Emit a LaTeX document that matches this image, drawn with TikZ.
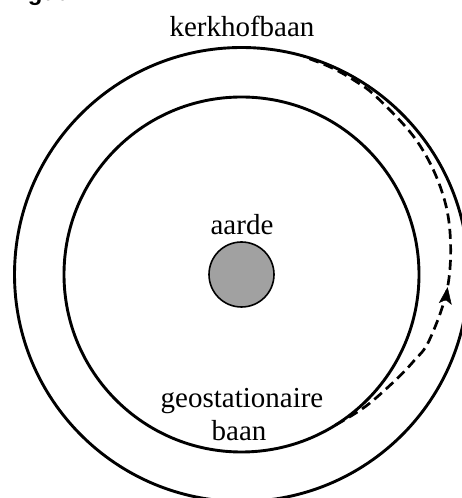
\documentclass[tikz,border=0pt]{standalone}
\usepackage{fontspec}
\setmainfont{Liberation Serif}
\newfontfamily\titlefont{Liberation Sans}
\usetikzlibrary{arrows.meta,calc}
\begin{document}
\begin{tikzpicture}[x=1pt,y=1pt,
  orbit/.style={line width=2.9pt},
  transfer/.style={line width=2.7pt, dash pattern=on 10pt off 5.5pt},
  lbl/.style={font=\fontsize{29}{34}\selectfont, inner sep=0pt},
]
\useasboundingbox (0,0) rectangle (462,498);
\clip (0,0) rectangle (462,498);
\coordinate (C) at (241.5,223.5);
% title fragment (cut off at the top)
\node[anchor=base west, inner sep=0pt, font=\titlefont\bfseries\fontsize{24}{28}\selectfont] (title) at (13,497.5) {figuur};
% orbits
\draw[orbit] (C) circle[radius=227];
\draw[orbit] (C) circle[radius=177.5];
% earth
\node[circle, draw, line width=1.6pt, fill=black!37, minimum size=65pt, inner sep=0pt] (earth) at (C) {};
% transfer orbit
\draw[transfer, shift={(C)}] plot[smooth, tension=0.6] coordinates {
  (-58:177.5) (-47:181) (-35.6:186) (-27:192.5) (-19.2:199) (-3.5:206.5)
  (12:213) (24.7:217.5) (38:220.5) (52.6:223) (60:224.5) (67:225.6) (74:226.5)};
\coordinate (T) at ($(C)+(-3.5:206.5)$);
\draw[line width=0.5pt, -{Stealth[length=17pt,width=13pt,inset=4pt]}] ($(T)+(262:2)$) -- (T);
% labels
\node[lbl, anchor=base] (kerkhof) at (242,461) {kerkhofbaan};
\node[lbl, anchor=base] (aarde) at (242,263) {aarde};
\node[lbl, anchor=base] (geo1) at (242,90) {geostationaire};
\node[lbl, anchor=base] (geo2) at (239,57) {baan};
\end{tikzpicture}
\end{document}
